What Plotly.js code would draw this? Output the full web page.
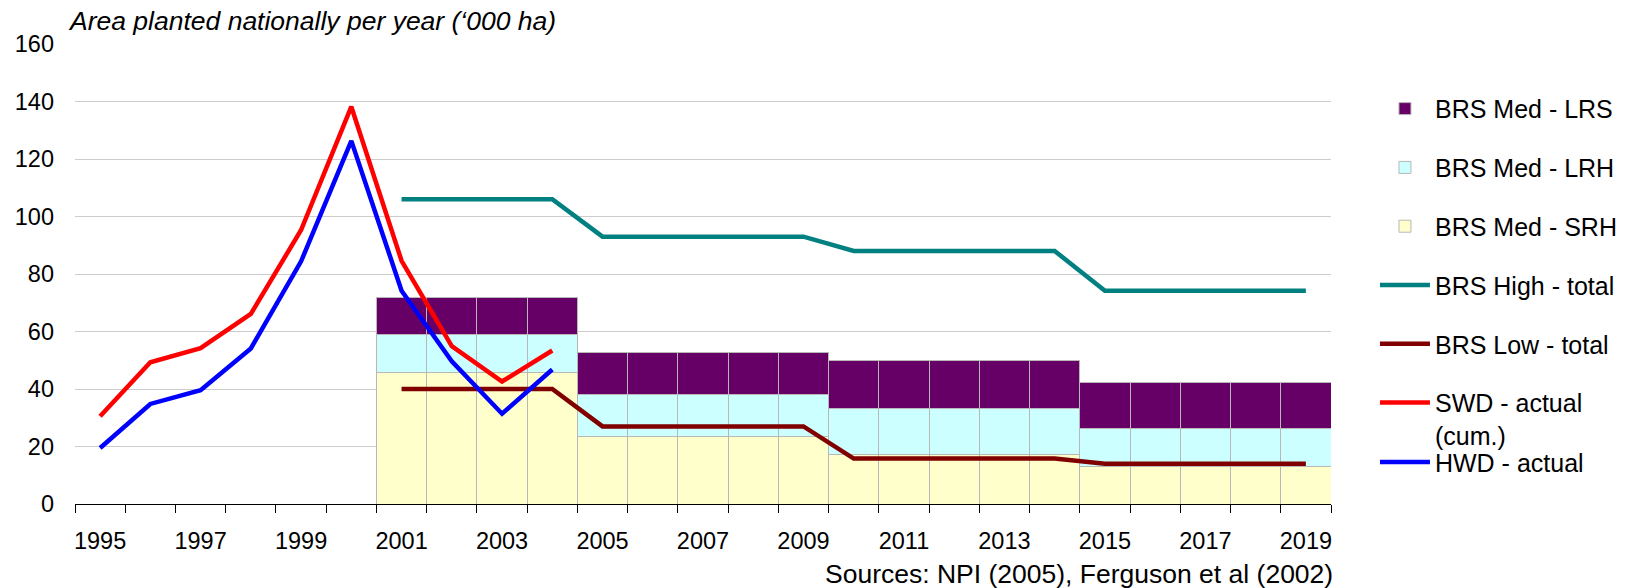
<!DOCTYPE html>
<html>
<head>
<meta charset="utf-8">
<script src="https://cdn.plot.ly/plotly-3.0.1.min.js"></script>
<style>
  html, body { margin: 0; padding: 0; background: #ffffff; }
  #chart { width: 1634px; height: 588px; }
</style>
</head>
<body>
<div id="chart"></div>
<script>
// ---- data ----
const years = [1995, 1996, 1997, 1998, 1999, 2000, 2001, 2002, 2003, 2004, 2005, 2006, 2007,
               2008, 2009, 2010, 2011, 2012, 2013, 2014, 2015, 2016, 2017, 2018, 2019];
const tickYears = [1995, 1997, 1999, 2001, 2003, 2005, 2007, 2009, 2011, 2013, 2015, 2017, 2019];

const actualYears = [1995, 1996, 1997, 1998, 1999, 2000, 2001, 2002, 2003, 2004];
const swdActual = [30.5, 49.3, 54.2, 66.1, 95.3, 138.2, 84.6, 54.9, 42.6, 53.4];
const hwdActual = [19.5, 34.8, 39.6, 54.1, 84.4, 126.3, 74.2, 49.6, 31.4, 46.8];

const brsYears = [2001, 2002, 2003, 2004, 2005, 2006, 2007, 2008, 2009, 2010,
                  2011, 2012, 2013, 2014, 2015, 2016, 2017, 2018, 2019];
const brsMedSRH = [45.7, 45.7, 45.7, 45.7, 23.6, 23.6, 23.6, 23.6, 23.6, 17.3,
                   17.3, 17.3, 17.3, 17.3, 13.1, 13.1, 13.1, 13.1, 13.1];
const brsMedLRH = [13.3, 13.3, 13.3, 13.3, 14.5, 14.5, 14.5, 14.5, 14.5, 16.0,
                   16.0, 16.0, 16.0, 16.0, 13.3, 13.3, 13.3, 13.3, 13.3];
const brsMedLRS = [13.0, 13.0, 13.0, 13.0, 14.6, 14.6, 14.6, 14.6, 14.6, 16.6,
                   16.6, 16.6, 16.6, 16.6, 15.8, 15.8, 15.8, 15.8, 15.8];
const brsHighTotal = [106, 106, 106, 106, 93, 93, 93, 93, 93, 88,
                      88, 88, 88, 88, 74.2, 74.2, 74.2, 74.2, 74.2];
const brsLowTotal = [40, 40, 40, 40, 27, 27, 27, 27, 27, 15.8,
                     15.8, 15.8, 15.8, 15.8, 14, 14, 14, 14, 14];

// ---- styling ----
const FONT = '"Liberation Sans", Arial, sans-serif';
const barLine = { color: '#b8b8b8', width: 1 };
const LW = 4.5;

const traces = [
  { type: 'bar', name: 'BRS Med - SRH', x: brsYears, y: brsMedSRH, width: 1,
    marker: { color: '#ffffcc', line: barLine }, legendrank: 3, legendgroup: 'g3' },
  { type: 'bar', name: 'BRS Med - LRH', x: brsYears, y: brsMedLRH, width: 1,
    marker: { color: '#ccffff', line: barLine }, legendrank: 2, legendgroup: 'g2' },
  { type: 'bar', name: 'BRS Med - LRS', x: brsYears, y: brsMedLRS, width: 1,
    marker: { color: '#660066', line: barLine }, legendrank: 1, legendgroup: 'g1' },
  { type: 'scatter', mode: 'lines', name: 'BRS High - total', x: brsYears, y: brsHighTotal,
    line: { color: '#008080', width: LW }, legendrank: 4, legendgroup: 'g4' },
  { type: 'scatter', mode: 'lines', name: 'BRS Low - total', x: brsYears, y: brsLowTotal,
    line: { color: '#800000', width: LW }, legendrank: 5, legendgroup: 'g5' },
  { type: 'scatter', mode: 'lines', name: 'SWD - actual<br>(cum.)', x: actualYears, y: swdActual,
    line: { color: '#ff0000', width: LW }, legendrank: 6, legendgroup: 'g6' },
  { type: 'scatter', mode: 'lines', name: 'HWD - actual', x: actualYears, y: hwdActual,
    line: { color: '#0000ff', width: LW }, legend: 'legend2' }
];

const layout = {
  width: 1634, height: 588,
  margin: { l: 75, r: 301, t: 44, b: 84, pad: 0 },
  paper_bgcolor: '#ffffff', plot_bgcolor: '#ffffff',
  font: { family: FONT, color: '#000000', size: 23.5 },
  barmode: 'stack', bargap: 0,
  title: {
    text: 'Area planted nationally per year (‘000 ha)',
    font: { family: FONT, size: 26.5, style: 'italic', color: '#000000' },
    xref: 'container', x: 70 / 1634, xanchor: 'left',
    yref: 'container', y: 1 - 21 / 588, yanchor: 'middle'
  },
  xaxis: {
    type: 'linear', range: [1994.5, 2019.5], fixedrange: true,
    tickmode: 'array', tickvals: tickYears, ticktext: tickYears.map(String),
    ticks: '', showgrid: false, zeroline: false,
    showline: true, linecolor: '#000000', linewidth: 1,
    ticklabelstandoff: 16,
    tickfont: { family: FONT, size: 23.5, color: '#000000' },
    minor: { tick0: 1994.5, dtick: 1, ticks: 'outside', ticklen: 8, tickcolor: '#000000',
             tickwidth: 1, showgrid: false }
  },
  yaxis: {
    range: [0, 160], fixedrange: true, tickmode: 'array',
    tickvals: [0, 20, 40, 60, 80, 100, 120, 140, 160],
    ticks: '', showline: false, zeroline: false,
    showgrid: true, gridcolor: '#cccccc', gridwidth: 1,
    ticklabelstandoff: 20,
    tickfont: { family: FONT, size: 23.5, color: '#000000' }
  },
  legend: {
    x: 1.035, xanchor: 'left', y: 0.909, yanchor: 'top',
    xref: 'paper', yref: 'paper',
    font: { family: FONT, size: 25, color: '#000000' },
    itemwidth: 50, tracegroupgap: 23.3, valign: 'top',
    bgcolor: 'rgba(0,0,0,0)', borderwidth: 0, traceorder: 'grouped'
  },
  legend2: {
    x: 1.035, xanchor: 'left', y: 0.141, yanchor: 'top',
    xref: 'paper', yref: 'paper',
    font: { family: FONT, size: 25, color: '#000000' },
    itemwidth: 50, bgcolor: 'rgba(0,0,0,0)', borderwidth: 0
  },
  annotations: [{
    text: 'Sources: NPI (2005), Ferguson et al (2002)',
    xref: 'paper', yref: 'paper', x: 1.003, xanchor: 'right', y: -0.152, yanchor: 'middle',
    showarrow: false, font: { family: FONT, size: 26.5, color: '#000000' }
  }]
};

Plotly.newPlot('chart', traces, layout, { displayModeBar: false, staticPlot: true });
</script>
</body>
</html>
